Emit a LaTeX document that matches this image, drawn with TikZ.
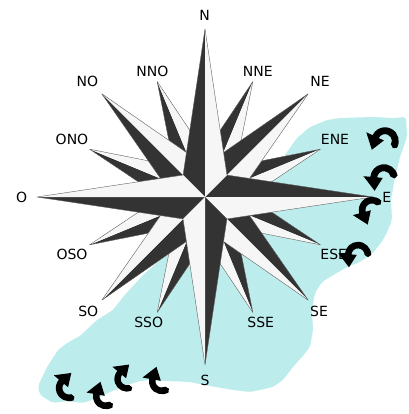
\documentclass[tikz,border=0pt]{standalone}
\usepackage{fontspec}
\setmainfont{DejaVu Sans}
\usetikzlibrary{calc}
\definecolor{sea}{RGB}{188,237,236}
\definecolor{roseDark}{RGB}{51,51,51}
\definecolor{roseLight}{RGB}{246,246,246}
\definecolor{roseEdge}{RGB}{95,95,95}
\tikzset{
  halfdark/.style={fill=roseDark},
  halflight/.style={fill=roseLight},
  kiteedge/.style={draw=roseEdge, line width=0.4pt, line join=round},
  lbl/.style={font=\fontsize{14}{16}\selectfont, inner sep=0pt, text=black},
  % curved arrow: tail at angle 0, runs counter-clockwise over #1 degrees to the head
  pics/hook/.style={code={
    \fill[black] (-12:8.5) -- (0:11) arc[start angle=0,end angle=#1,radius=11]
      -- (#1:16.5) -- ($(#1:8.5)+({#1+100}:11)$) -- (#1:1) -- (#1:5.5)
      arc[start angle=#1,end angle=0,radius=5.5] -- cycle;
  }},
}
% one arm of the rose: angle, tip radius, side radius, side offset
\newcommand{\rosearm}[4]{%
  \fill[halfdark] (0,0) -- (#1:#2) -- ({#1+#4}:#3) -- cycle;
  \fill[halflight] (0,0) -- (#1:#2) -- ({#1-#4}:#3) -- cycle;
  \draw[kiteedge] ({#1+#4}:#3) -- (#1:#2) -- ({#1-#4}:#3);
}
\begin{document}
\begin{tikzpicture}[x=1pt,y=1pt]
\useasboundingbox (0,0) rectangle (408,-414);

% sea patch
\fill[sea, rounded corners=3pt] (271,-181) -- (285,-155) -- (297,-138) -- (310,-127)
  -- (327,-120) -- (340,-118) -- (373,-117) -- (393,-118) -- (406,-117) -- (407,-137)
  -- (400,-157) -- (395,-177) -- (391,-200) -- (392,-220) -- (388,-230) -- (383,-240)
  -- (373,-253) -- (360,-262) -- (347,-267) -- (330,-277) -- (322,-282) -- (315,-293)
  -- (312,-310) -- (313,-330) -- (310,-347) -- (302,-357) -- (293,-367) -- (283,-380)
  -- (273,-387) -- (260,-390) -- (250,-392) -- (233,-390) -- (210,-386) -- (190,-382)
  -- (167,-381) -- (150,-380) -- (140,-381) -- (127,-385) -- (110,-392) -- (100,-397)
  -- (83,-403) -- (67,-401) -- (53,-403) -- (40,-395) -- (38,-386) -- (47,-367)
  -- (58,-350) -- (67,-343) -- (80,-336) -- (97,-320) -- (113,-310) -- (123,-297)
  -- (143,-275) -- (165,-256) -- (220,-215) -- cycle;

% compass rose
\begin{scope}[shift={(205,-197)}]
  \foreach \a in {22.5,67.5,...,337.5} {\rosearm{\a}{125}{44}{22.5}}
  \foreach \a in {45,135,225,315} {\rosearm{\a}{146}{48}{22.5}}
  \foreach \a in {0,90,180,270} {\rosearm{\a}{168}{31}{45}}
\end{scope}

% point names
\node[lbl] (n)   at (204.7,-15)   {N};
\node[lbl] (nno) at (152.3,-71.7) {NNO};
\node[lbl] (nne) at (257.7,-71.7) {NNE};
\node[lbl] (no)  at (87.3,-81.7)  {NO};
\node[lbl] (ne)  at (320,-81.7)   {NE};
\node[lbl] (ono) at (72,-139.3)   {ONO};
\node[lbl] (ene) at (335,-139.3)  {ENE};
\node[lbl] (o)   at (21.7,-197.3) {O};
\node[lbl] (e)   at (386.7,-197.3){E};
\node[lbl] (oso) at (72,-254.3)   {OSO};
\node[lbl] (ese) at (333.7,-254.7){ESE};
\node[lbl] (so)  at (88.3,-311.7) {SO};
\node[lbl] (se)  at (319,-311.7)  {SE};
\node[lbl] (sso) at (148.7,-322.3){SSO};
\node[lbl] (sse) at (260.7,-322.3){SSE};
\node[lbl] (s)   at (205,-380)    {S};

% waves along the east shore
\pic[rotate=-30, scale=1.25] at (385,-141) {hook=185};
\pic[rotate=10, scale=1.25] at (384,-178) {hook=165};
\pic[rotate=45, scale=1.2] at (372,-210) {hook=150};
\pic[rotate=0, scale=1.2] at (358,-255) {hook=175};
% waves along the south-west shore
\pic[rotate=110, xscale=-1, scale=1.2] at (69,-388) {hook=150};
\pic[rotate=120, xscale=-1, scale=1.2] at (106,-396) {hook=130};
\pic[rotate=110, xscale=-1, scale=1.15] at (127,-379) {hook=150};
\pic[rotate=120, xscale=-1, scale=1.2] at (162,-381) {hook=130};
\end{tikzpicture}
\end{document}
